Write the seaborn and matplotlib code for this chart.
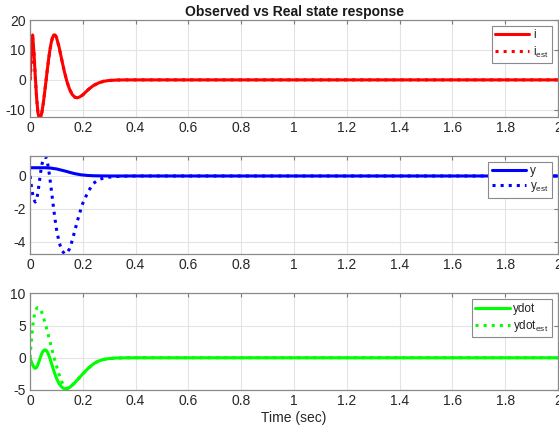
import matplotlib
matplotlib.use("Agg")
import matplotlib.pyplot as plt
import seaborn as sns
from matplotlib.ticker import FormatStrFormatter

# time samples (sec)
t = [0, 0.005, 0.01, 0.015, 0.02, 0.025, 0.03, 0.035, 0.04, 0.045, 0.05, 0.055,
     0.06, 0.065, 0.07, 0.075, 0.08, 0.085, 0.09, 0.095, 0.10, 0.11, 0.12, 0.13,
     0.14, 0.15, 0.16, 0.17, 0.18, 0.19, 0.20, 0.22, 0.24, 0.26, 0.28, 0.30,
     0.33, 0.36, 0.40, 0.50, 2.0]

i_real = [0, 11, 15, 9, 1, -6, -11, -13, -12.6, -10.8, -8, -4.5,
          -0.8, 3, 6.6, 9.8, 12.3, 14.1, 15, 15, 14.2, 11, 6.8, 2.8,
          -0.6, -3.2, -4.9, -5.8, -6, -5.6, -5, -3.3, -1.9, -1, -0.45, -0.2,
          -0.05, 0, 0, 0, 0]
i_est = [0, 5, 14, 9, 1, -6, -11, -13, -12.6, -10.8, -8, -4.5,
         -0.8, 3, 6.6, 9.8, 12.3, 14.1, 15, 15, 14.2, 11, 6.8, 2.8,
         -0.6, -3.2, -4.9, -5.8, -6, -5.6, -5, -3.3, -1.9, -1, -0.45, -0.2,
         -0.05, 0, 0, 0, 0]

y_real = [0.5, 0.5, 0.5, 0.5, 0.5, 0.5, 0.5, 0.5, 0.5, 0.5, 0.5, 0.5,
          0.5, 0.49, 0.49, 0.48, 0.48, 0.46, 0.45, 0.44, 0.43, 0.39, 0.35, 0.31,
          0.27, 0.22, 0.18, 0.14, 0.11, 0.08, 0.06, 0.03, 0.015, 0.008, 0.004, 0,
          0, 0, 0, 0, 0]
y_est = [0, -0.6, -1.1, -1.45, -1.58, -1.45, -1.0, -0.4, 0.2, 0.7, 1.0, 1.15,
         1.13, 0.9, 0.45, -0.1, -0.75, -1.4, -2.05, -2.65, -3.2, -4.0, -4.5, -4.7,
         -4.68, -4.4, -3.9, -3.3, -2.7, -2.15, -1.65, -0.95, -0.45, -0.22, -0.12, -0.07,
         -0.03, -0.01, 0, 0, 0]

ydot_real = [0, -0.6, -1.1, -1.5, -1.65, -1.5, -1.05, -0.45, 0.15, 0.7, 1.05, 1.22,
             1.2, 0.95, 0.5, -0.05, -0.7, -1.35, -2.0, -2.6, -3.15, -4.0, -4.55, -4.8,
             -4.8, -4.6, -4.25, -3.85, -3.4, -2.95, -2.5, -1.65, -0.95, -0.5, -0.25, -0.12,
             -0.04, -0.01, 0, 0, 0]
ydot_est = [0, 2.6, 4.8, 6.3, 7.2, 7.65, 7.8, 7.75, 7.5, 7.0, 6.4, 5.7,
            5.0, 4.2, 3.4, 2.6, 1.8, 1.0, 0.2, -0.5, -1.2, -2.6, -3.7, -4.5,
            -4.8, -4.6, -4.25, -3.85, -3.4, -2.95, -2.5, -1.65, -0.95, -0.5, -0.25, -0.12,
            -0.04, -0.01, 0, 0, 0]

x_ticks = [0, 0.2, 0.4, 0.6, 0.8, 1, 1.2, 1.4, 1.6, 1.8, 2]

sns.set_style("white")
plt.rcParams['font.family'] = ['Liberation Sans', 'DejaVu Sans']
plt.rcParams['mathtext.fontset'] = 'custom'
plt.rcParams['mathtext.rm'] = 'Liberation Sans'
plt.rcParams['axes.unicode_minus'] = False

fig = plt.figure(figsize=(5.59, 4.34), dpi=100)
boxes = [[0.0537, 0.7304, 0.9445, 0.2235],
         [0.0537, 0.4147, 0.9445, 0.2258],
         [0.0537, 0.1014, 0.9445, 0.2228]]
panels = [
    (i_real, i_est, '#ff0000', 'i', r'i$_{\mathregular{est}}$', (-12.4, 20), [-10, 0, 10, 20]),
    (y_real, y_est, '#0000ff', 'y', r'y$_{\mathregular{est}}$', (-4.73, 1.21), [-4, -2, 0]),
    (ydot_real, ydot_est, '#00ff00', 'ydot', r'ydot$_{\mathregular{est}}$', (-5, 10), [-5, 0, 5, 10]),
]

axes = []
for box, (real, est, col, lab, lab_est, ylim, yt) in zip(boxes, panels):
    ax = fig.add_axes(box)
    sns.lineplot(x=t, y=real, ax=ax, color=col, linewidth=2.2, label=lab)
    sns.lineplot(x=t, y=est, ax=ax, color=col, linewidth=2.2, linestyle=':', label=lab_est)
    ax.set_xlim(0, 2)
    ax.set_ylim(*ylim)
    ax.set_xticks(x_ticks)
    ax.set_yticks(yt)
    ax.xaxis.set_major_formatter(FormatStrFormatter('%g'))
    ax.grid(True, color='#e3e3e3', linewidth=0.8)
    ax.tick_params(direction='in', top=True, right=True, length=3, width=0.8,
                   color='#7a7a7a', labelcolor='#262626', labelsize=10, pad=3)
    for s in ax.spines.values():
        s.set_color('#8a8a8a')
        s.set_linewidth(0.9)
    leg = ax.legend(loc='upper right', fontsize=8.5, handlelength=2.9,
                    borderaxespad=0.5, fancybox=False, framealpha=1,
                    edgecolor='#8a8a8a', borderpad=0.3, labelspacing=0.25,
                    handletextpad=0.3)
    leg.get_frame().set_linewidth(0.8)
    for txt in leg.get_texts():
        txt.set_color('#262626')
    axes.append(ax)

axes[0].set_title('Observed vs Real state response', fontsize=10,
                  fontweight='bold', color='#1a1a1a', pad=3)
axes[2].set_xlabel('Time (sec)', fontsize=10, color='#262626', labelpad=2)

fig.savefig('out.png', dpi=100)
